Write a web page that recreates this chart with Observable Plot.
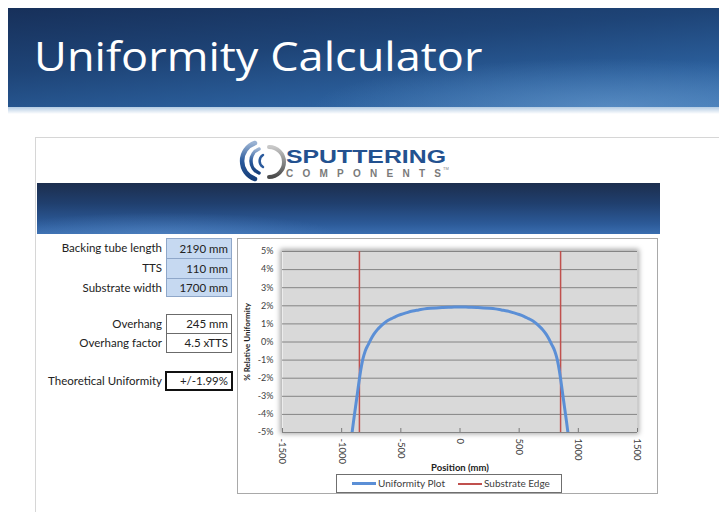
<!DOCTYPE html>
<html>
<head>
<meta charset="utf-8">
<script src="https://cdn.jsdelivr.net/npm/d3@7"></script>
<script src="https://cdn.jsdelivr.net/npm/@observablehq/plot@0.6"></script>
<style>
  html, body { margin: 0; padding: 0; background: #fff; }
  #page { position: relative; width: 719px; height: 512px; overflow: hidden; background: #fff; font-family: Lato, "Open Sans", sans-serif; }
  .abs { position: absolute; }
  #banner { left: 8px; top: 8px; width: 711px; height: 99px;
    background:
      radial-gradient(ellipse 60% 70% at 85% 100%, rgba(110,160,210,0.55), rgba(110,160,210,0) 70%),
      linear-gradient(175deg, #17305a 0%, #1e4477 40%, #2b5f9c 75%, #3a72b0 100%); }
  #glow { left: 8px; top: 107px; width: 711px; height: 7px; background: linear-gradient(#b3cbe3, rgba(255,255,255,0)); }
  #title { left: 34px; top: 35px; color: #fff; font-family: "Open Sans", sans-serif; font-size: 41px; line-height: 41px; white-space: nowrap; transform: scaleX(1.1); transform-origin: 0 0; }
  #panel { left: 35px; top: 137px; width: 700px; height: 400px; border-top: 1px solid #d6d6d6; border-left: 1px solid #d6d6d6; }
  #inner { left: 37px; top: 183px; width: 623px; height: 51px;
    background:
      radial-gradient(ellipse 40% 60% at 20% 100%, rgba(90,140,200,0.5), rgba(90,140,200,0) 70%),
      linear-gradient(180deg, #1c2e4e 0%, #203f6e 40%, #2c5a98 80%, #3a6eb0 100%); }
  .lbl { position: absolute; right: 557px; font-size: 11.5px; color: #222; white-space: nowrap; line-height: 18px; }
  .cell { position: absolute; left: 166px; width: 66px; box-sizing: border-box; font-size: 11.5px; color: #222; text-align: right; padding-right: 3px; white-space: nowrap; }
  .blue { background: #c6d9f1; border: 1px solid #8fa7c9; }
  .white { background: #fff; border: 1px solid #6b6b6b; }
  .thick { background: #fff; border: 2px solid #111; left: 165px; width: 68px; }
  #chartframe { left: 237px; top: 238px; width: 421px; height: 256px; box-sizing: border-box; border: 1px solid #a9a9a9; background: #fff; }
  #shadow { left: 282px; top: 251px; width: 355px; height: 181px; box-shadow: 0 0 5px 2px rgba(0,0,0,0.35); }
  #chart { left: 238px; top: 239px; }
  #legend { left: 336px; top: 474px; width: 226px; height: 19px; box-sizing: border-box; border: 1px solid #6f6f6f; background: #fff; font-size: 10px; color: #404040; }
  .lg { position: absolute; }
  .lt { position: absolute; top: 2px; line-height: 13px; white-space: nowrap; }
</style>
</head>
<body>
<div id="page">
  <div id="banner" class="abs"></div>
  <div id="glow" class="abs"></div>
  <div id="title" class="abs">Uniformity Calculator</div>
  <div id="panel" class="abs"></div>

  <svg class="abs" style="left:237px;top:140px" width="220" height="42" viewBox="0 0 220 42">
    <defs>
      <linearGradient id="gb" x1="0" y1="0" x2="0" y2="1">
        <stop offset="0" stop-color="#9bb3d3"/>
        <stop offset="0.5" stop-color="#2a5a9c"/>
        <stop offset="1" stop-color="#173f7a"/>
      </linearGradient>
      <linearGradient id="gg" x1="0" y1="0" x2="0" y2="1">
        <stop offset="0" stop-color="#c8c8c8"/>
        <stop offset="1" stop-color="#4a4a4a"/>
      </linearGradient>
    </defs>
    <path d="M18 3 A19 19 0 0 0 18 39" fill="none" stroke="url(#gb)" stroke-width="4.5" stroke-linecap="round"/>
    <path d="M22 9 A13 13 0 0 0 22 33" fill="none" stroke="url(#gb)" stroke-width="3.5" stroke-linecap="round"/>
    <path d="M26 15 A7 7 0 0 0 26 27" fill="none" stroke="#2a5a9c" stroke-width="2.5" stroke-linecap="round"/>
    <path d="M32 7 A15 15 0 0 1 32 37" fill="none" stroke="url(#gg)" stroke-width="4" stroke-linecap="round"/>
    <text x="49" y="22.5" font-family="'Liberation Sans', Arial, sans-serif" font-weight="bold" font-size="18" fill="#23518f" textLength="160" lengthAdjust="spacingAndGlyphs">SPUTTERING</text>
    <text x="49" y="36.5" font-family="'Liberation Sans', Arial, sans-serif" font-weight="bold" font-size="10" fill="#7a7a7a" textLength="155" lengthAdjust="spacing">COMPONENTS</text>
    <text x="206" y="30" font-family="'Liberation Sans', Arial, sans-serif" font-size="4" fill="#7a7a7a">TM</text>
  </svg>

  <div id="inner" class="abs"></div>

  <div id="table"></div>

  <div id="chartframe" class="abs"></div>
  <div id="shadow" class="abs"></div>
  <div id="chart" class="abs"></div>

  <div id="legend" class="abs">
    <div class="lg" style="left:15px;top:7px;width:24px;height:3px;background:#5b8fd6"></div>
    <div class="lt" style="left:41px">Uniformity Plot</div>
    <div class="lg" style="left:121px;top:8px;width:24px;height:1.5px;background:#c0504d"></div>
    <div class="lt" style="left:147px">Substrate Edge</div>
  </div>
</div>

<script>
// ---- Input table ----
const inputLabels = ["Backing tube length", "TTS", "Substrate width"];
const inputValues = ["2190 mm", "110 mm", "1700 mm"];
const derivedLabels = ["Overhang", "Overhang factor"];
const derivedValues = ["245 mm", "4.5 xTTS"];
const resultLabel = "Theoretical Uniformity";
const resultValue = "+/-1.99%";

// ---- Chart data ----
const positions = [
  -912, -900, -890, -880, -870, -860, -850, -840, -830, -820, -800, -780, -760, -740, -720, -700, -680, -650, -620, -580, -540, -500, -450, -400, -350, -300, -250, -200, -150, -100, -50,
  0,
  50, 100, 150, 200, 250, 300, 350, 400, 450, 500, 540, 580, 620, 650, 680, 700, 720, 740, 760, 780, 800, 820, 830, 840, 850, 860, 870, 880, 890, 900, 912
];
const uniformity = [
  -5.0, -4.4, -3.92, -3.45, -2.98, -2.5, -2.03, -1.6, -1.23, -0.92, -0.48, -0.2, 0.06, 0.3, 0.5, 0.67, 0.81, 0.99, 1.15, 1.29, 1.42, 1.52, 1.62, 1.71, 1.77, 1.83, 1.86, 1.88, 1.9, 1.92, 1.93,
  1.94,
  1.93, 1.92, 1.9, 1.88, 1.86, 1.83, 1.77, 1.71, 1.62, 1.52, 1.42, 1.29, 1.15, 0.99, 0.81, 0.67, 0.5, 0.3, 0.06, -0.2, -0.48, -0.92, -1.23, -1.6, -2.03, -2.5, -2.98, -3.45, -3.92, -4.4, -5.0
];
const substrateEdges = [-850, 850];
const xTicks = [-1500, -1000, -500, 0, 500, 1000, 1500];
const yTicks = [5, 4, 3, 2, 1, 0, -1, -2, -3, -4, -5];
const xLabel = "Position (mm)";
const yLabel = "% Relative Uniformity";

// ---- Build table ----
const table = document.getElementById("table");
function addRow(label, value, top, h, cls) {
  const l = document.createElement("div");
  l.className = "lbl";
  l.style.top = (top + 1) + "px";
  l.textContent = label;
  table.appendChild(l);
  const c = document.createElement("div");
  c.className = "cell " + cls;
  c.style.top = top + "px";
  c.style.height = h + "px";
  c.style.lineHeight = (h - (cls === "thick" ? 4 : 2)) + "px";
  c.textContent = value;
  table.appendChild(c);
}
const inputTops = [238, 258, 278];
inputLabels.forEach((d, i) => addRow(d, inputValues[i], inputTops[i], i === 2 ? 19 : 21, "blue"));
const derivedTops = [314, 333];
derivedLabels.forEach((d, i) => addRow(d, derivedValues[i], derivedTops[i], 20, "white"));
addRow(resultLabel, resultValue, 371, 20, "thick");

// ---- Chart ----
const curve = positions.map((p, i) => ({x: p, y: uniformity[i]}));
const chart = Plot.plot({
  width: 420,
  height: 255,
  marginLeft: 44,
  marginRight: 21,
  marginTop: 12,
  marginBottom: 62,
  style: {background: "transparent", fontFamily: "Lato, sans-serif", color: "#404040", overflow: "visible"},
  x: {domain: [-1500, 1500]},
  y: {domain: [-5, 5]},
  marks: [
    Plot.frame({fill: "#d9d9d9", stroke: null}),
    Plot.ruleY(yTicks, {stroke: "#848484", strokeWidth: 1}),
    Plot.axisY(yTicks, {tickSize: 0, tickPadding: 9, fontSize: 9, tickFormat: d => d + "%", label: null}),
    Plot.axisX(xTicks, {tickSize: 4, dy: -4, text: null, stroke: "#7a7a7a", label: null}),
    Plot.axisX(xTicks, {tickSize: 0, tickPadding: 6, tickRotate: 90, fontSize: 9.5, tickFormat: d => String(d), label: null}),
    Plot.text([xLabel], {frameAnchor: "bottom", dy: 35, lineAnchor: "middle", fontWeight: "bold", fontSize: 9.5, fill: "#222"}),
    Plot.text([yLabel], {frameAnchor: "left", dx: -35, rotate: -90, textAnchor: "middle", lineAnchor: "middle", fontWeight: "bold", fontSize: 8, fill: "#222"}),
    Plot.ruleX(substrateEdges, {stroke: "#c0504d", strokeWidth: 1.5}),
    Plot.line(curve, {x: "x", y: "y", stroke: "#5b8fd6", strokeWidth: 3, curve: "natural", clip: true})
  ]
});
document.getElementById("chart").appendChild(chart);
</script>
</body>
</html>
